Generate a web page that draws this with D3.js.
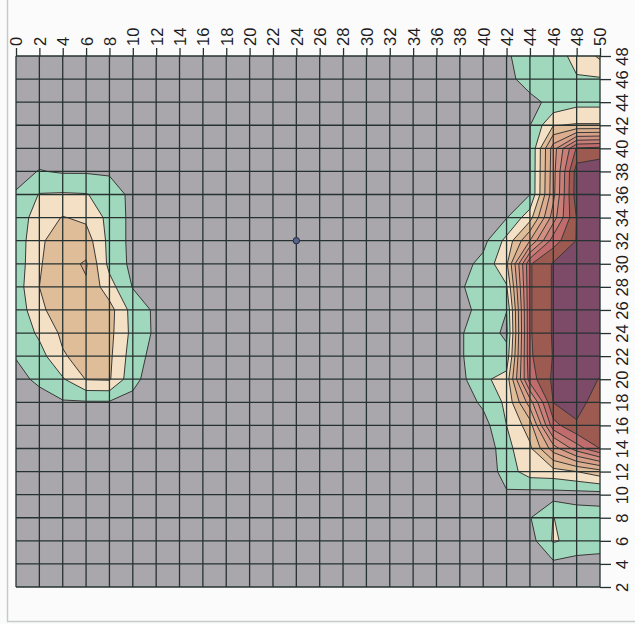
<!DOCTYPE html>
<html>
<head>
<meta charset="utf-8">
<script src="https://cdn.jsdelivr.net/npm/d3@7"></script>
<style>
  html, body { margin: 0; padding: 0; background: #fcfbfc; }
  svg { display: block; }
  text { font-family: "Liberation Sans", Arial, sans-serif; }
</style>
</head>
<body>
<svg id="chart" width="635" height="624"></svg>
<script>
// Grid node positions (km) and axis tick labels
const xTicks = [0, 2, 4, 6, 8, 10, 12, 14, 16, 18, 20, 22, 24, 26, 28, 30, 32, 34, 36, 38, 40, 42, 44, 46, 48, 50];
const yTicks = [2, 4, 6, 8, 10, 12, 14, 16, 18, 20, 22, 24, 26, 28, 30, 32, 34, 36, 38, 40, 42, 44, 46, 48];
const gridX = [0, 2, 4, 6, 8, 10, 12, 14, 16, 18, 20, 22, 24, 26, 28, 30, 32, 34, 36, 38, 40, 42, 44, 46, 48, 50];
const gridY = [48, 46, 44, 42, 40, 38, 36, 34, 32, 30, 28, 26, 24, 22, 20, 18, 16, 14, 12, 10, 8, 6, 4, 2];

// Contour class boundaries
const levels = [1, 2, 3, 4, 5, 6, 7, 8, 9, 10];

// Measured surface, one row per gridY value (north to south), one column per gridX value
const surfaceRows = [
  [0,0,0,0,0,0,0,0, 0,0,0,0,0,0,0,0,0, 0.1,0.2,0.3,0.5,0.9,1.4,1.7,2.2,3.2],
  [0,0,0,0,0,0,0,0, 0,0,0,0,0,0,0,0,0, 0.1,0.2,0.3,0.5,0.8,1.3,1.6,1.95,1.9],
  [0,0,0,0,0,0,0,0, 0,0,0,0,0,0,0,0,0, 0.1,0.2,0.3,0.4,0.6,0.8,1.2,1.7,1.7],
  [0.1,0.2,0.2,0.2,0.2,0.1,0,0, 0,0,0,0,0,0,0,0,0, 0.1,0.2,0.3,0.4,0.6,0.97,2.95,3.1,3.1],
  [0.3,0.5,0.5,0.5,0.5,0.4,0.2,0.1, 0,0,0,0,0,0,0,0,0, 0.1,0.2,0.3,0.4,0.6,0.98,5.5,9.1,9.3],
  [0.6,1.05,0.9,0.9,0.85,0.6,0.3,0.1, 0,0,0,0,0,0,0,0,0, 0.1,0.2,0.3,0.4,0.6,0.98,5.6,10.5,10.8],
  [1.1,2.05,2.1,2.05,1.6,0.7,0.3,0.1, 0,0,0,0,0,0,0,0,0, 0.1,0.2,0.3,0.4,0.6,0.99,5.7,10.6,10.9],
  [1.4,2.5,3.05,2.8,1.7,0.7,0.3,0.1, 0,0,0,0,0,0,0,0,0, 0.1,0.2,0.3,0.5,0.95,2.6,6.5,10.05,10.9],
  [1.4,2.8,3.6,3.5,1.7,0.7,0.3,0.1, 0,0,0,0,0,0,0,0,0, 0.1,0.2,0.4,0.7,2.3,5.0,8.5,10.05,11],
  [1.4,2.9,3.7,4.1,1.7,0.75,0.3,0.1, 0,0,0,0,0,0,0,0,0, 0.1,0.2,0.6,1.3,2.8,8.9,10.1,11,11],
  [1.5,3.0,3.8,3.9,2.4,0.95,0.4,0.1, 0,0,0,0,0,0,0,0,0, 0.1,0.3,0.85,1.6,1.9,8.9,10.1,11,11],
  [1.3,2.8,3.5,3.6,3.4,1.6,0.8,0.2, 0,0,0,0,0,0,0,0,0, 0.1,0.3,0.6,1.4,1.02,8.9,10.1,11,11],
  [1.2,2.2,3.2,3.6,3.3,1.7,0.8,0.2, 0,0,0,0,0,0,0,0,0, 0.1,0.3,0.9,1.5,0.8,8.9,10.1,11,11],
  [1.05,1.6,2.9,3.4,3.2,1.5,0.6,0.2, 0,0,0,0,0,0,0,0,0, 0.1,0.3,0.9,1.5,1.3,8.85,10.05,11,11],
  [0.7,1.2,1.9,3.05,3.1,1.3,0.4,0.1, 0,0,0,0,0,0,0,0,0, 0.1,0.3,0.7,1.8,2.4,8.5,10.2,10.5,9.95],
  [0.3,0.6,0.9,0.9,0.9,0.7,0.2,0.1, 0,0,0,0,0,0,0,0,0, 0.1,0.2,0.4,1.2,2.2,5.5,10.02,10.3,9.6],
  [0.1,0.2,0.3,0.3,0.3,0.2,0.1,0, 0,0,0,0,0,0,0,0,0, 0.1,0.1,0.3,0.6,2.0,3.5,8.6,9.9,9.5],
  [0,0,0,0,0,0,0,0, 0,0,0,0,0,0,0,0,0, 0,0.1,0.2,0.2,1.7,2.8,5.5,7.5,9.0],
  [0,0,0,0,0,0,0,0, 0,0,0,0,0,0,0,0,0, 0,0.1,0.1,0.2,1.5,2.5,2.6,3.0,3.6],
  [0,0,0,0,0,0,0,0, 0,0,0,0,0,0,0,0,0, 0,0,0.1,0.2,0.85,0.6,0.6,0.6,0.6],
  [0,0,0,0,0,0,0,0, 0,0,0,0,0,0,0,0,0, 0,0,0,0.1,0.3,0.95,2.02,1.5,1.4],
  [0,0,0,0,0,0,0,0, 0,0,0,0,0,0,0,0,0, 0,0,0,0.1,0.2,0.6,2.1,1.7,1.5],
  [0,0,0,0,0,0,0,0, 0,0,0,0,0,0,0,0,0, 0,0,0,0,0.1,0.3,0.8,0.6,0.6],
  [0,0,0,0,0,0,0,0, 0,0,0,0,0,0,0,0,0, 0,0,0,0,0,0.1,0.2,0.2,0.2]
];

// Sampling station
const stationX = [24];
const stationY = [32];

// Fill colour for each class (>= level)
const levelColors = ["#9fd8bd", "#f3e0c5", "#dfbd98", "#dcae8f", "#d79f87", "#d08f80",
                     "#c97e78", "#c06b6c", "#9d5a51", "#7d4a68"];

const svg = d3.select("#chart");
const W = 635, H = 624;

const x = d3.scaleLinear().domain([0, 50]).range([16, 600]);
const y = d3.scaleLinear().domain([2, 48]).range([587, 56]);

svg.append("rect").attr("width", W).attr("height", H).attr("fill", "#fcfbfc");

// sheet edge
svg.append("path")
  .attr("d", `M7.5,0 V621.5 H${W}`)
  .attr("fill", "none").attr("stroke", "#c4ccc9").attr("stroke-width", 1.5);

const px0 = x(0), px1 = x(50), py0 = y(48), py1 = y(2);

svg.append("clipPath").attr("id", "plot-clip")
  .append("rect").attr("x", px0).attr("y", py0)
  .attr("width", px1 - px0).attr("height", py1 - py0);

const plot = svg.append("g").attr("clip-path", "url(#plot-clip)");
plot.append("rect").attr("x", px0).attr("y", py0)
  .attr("width", px1 - px0).attr("height", py1 - py0)
  .attr("fill", "#a9a7ac");

// contour bands
const nx = gridX.length, ny = gridY.length;
const dxStep = gridX[1] - gridX[0];
const dyStep = gridY[0] - gridY[1];
const bands = d3.contours().size([nx, ny]).thresholds(levels)(surfaceRows.flat());

const toPlot = d3.geoTransform({
  point(cx, cy) {
    this.stream.point(x(gridX[0] + (cx - 0.5) * dxStep), y(gridY[0] - (cy - 0.5) * dyStep));
  }
});
const path = d3.geoPath(toPlot);

plot.selectAll("path.band").data(bands).join("path")
  .attr("class", "band")
  .attr("d", path)
  .attr("fill", (d, i) => levelColors[i])
  .attr("stroke", "#3a3836")
  .attr("stroke-width", 1)
  .attr("stroke-linejoin", "round");

// grid
const gridColor = "#263230";
const grid = svg.append("g").attr("stroke", gridColor).attr("stroke-width", 1.3);
grid.selectAll("line.v").data(xTicks).join("line")
  .attr("x1", d => x(d)).attr("x2", d => x(d))
  .attr("y1", py0).attr("y2", py1);
grid.selectAll("line.h").data(yTicks).join("line")
  .attr("x1", px0).attr("x2", px1)
  .attr("y1", d => y(d)).attr("y2", d => y(d));

// top axis
const topAxis = svg.append("g").attr("transform", `translate(0,${py0})`)
  .call(d3.axisTop(x).tickValues(xTicks).tickSize(8).tickSizeOuter(0).tickPadding(10));
topAxis.select(".domain").remove();
topAxis.selectAll(".tick line").attr("stroke", gridColor).attr("stroke-width", 1.3);
topAxis.selectAll(".tick text")
  .attr("transform", "rotate(-90)")
  .attr("x", 10).attr("y", 0).attr("dy", "0.36em")
  .attr("text-anchor", "start")
  .attr("fill", "#1e1e1e")
  .style("font-size", "16.5px")
  .style("font-family", "'Liberation Sans', Arial, sans-serif");

// right axis
const rightAxis = svg.append("g").attr("transform", `translate(${px1},0)`)
  .call(d3.axisRight(y).tickValues(yTicks).tickSize(11).tickSizeOuter(0).tickPadding(4));
rightAxis.select(".domain").remove();
rightAxis.selectAll(".tick line").attr("stroke", gridColor).attr("stroke-width", 1.3);
rightAxis.selectAll(".tick text")
  .attr("transform", "rotate(-90)")
  .attr("x", 0).attr("y", 27.5).attr("dy", 0)
  .attr("text-anchor", "middle")
  .attr("fill", "#1e1e1e")
  .style("font-size", "16.5px")
  .style("font-family", "'Liberation Sans', Arial, sans-serif");

// station marker
svg.selectAll("circle.station").data(stationX.map((sx, i) => [sx, stationY[i]])).join("circle")
  .attr("class", "station")
  .attr("cx", d => x(d[0])).attr("cy", d => y(d[1]))
  .attr("r", 3.2)
  .attr("fill", "#56628a").attr("stroke", "#262b40").attr("stroke-width", 1);
</script>
</body>
</html>
